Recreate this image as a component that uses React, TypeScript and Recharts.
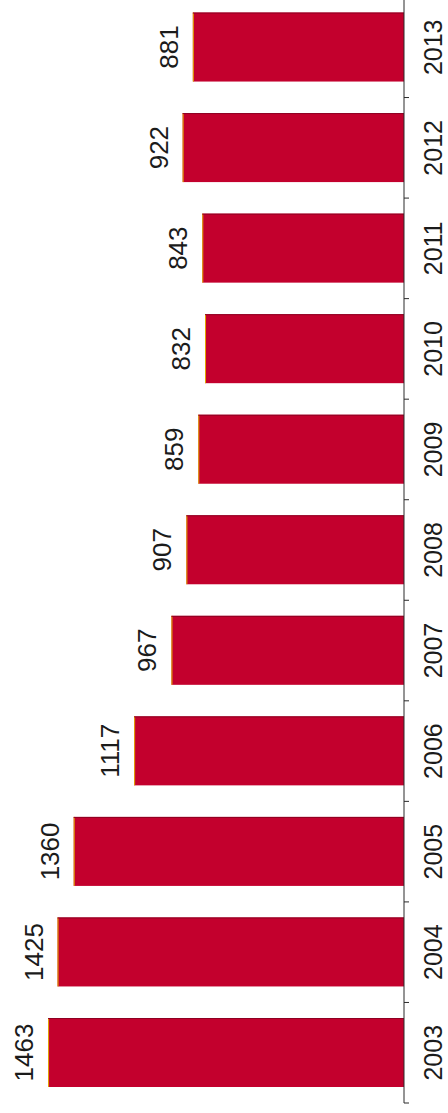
import { BarChart, Bar, XAxis, YAxis, LabelList } from "recharts";

const years = ["2003", "2004", "2005", "2006", "2007", "2008", "2009", "2010", "2011", "2012", "2013"];
const counts = [1463, 1425, 1360, 1117, 967, 907, 859, 832, 843, 922, 881];
const valueDomain = [32, 1600];

const data = years.map((year, i) => ({ year, count: counts[i] }));

const font = "'Liberation Sans Narrow', 'Liberation Sans', sans-serif";

const BarShape = (props: any) => {
  const { x, y, width, height } = props;
  return (
    <g>
      <rect x={x} y={y} width={width} height={height} fill="#C3002D" />
      <line x1={x} x2={x + width} y1={y + 0.5} y2={y + 0.5} stroke="#E2A800" strokeWidth={1} />
      <line x1={x + width - 0.5} x2={x + width - 0.5} y1={y} y2={y + height} stroke="#8E0022" strokeWidth={1} />
    </g>
  );
};

// tick mark sits on the category boundary (Excel style), label in the middle
const YearTick = (props: any) => {
  const { x, y, payload } = props;
  const edge = x - (payload.offset ?? 0);
  return (
    <g>
      <line x1={edge} x2={edge} y1={y} y2={y + 5} stroke="#2a2a2a" strokeWidth={1} />
      <text x={x} y={y + 38} textAnchor="middle" fill="#1b1b1b" fontSize={25} fontFamily={font}>
        {payload.value}
      </text>
    </g>
  );
};

export default function App() {
  return (
    <div
      style={{
        position: "absolute",
        left: 0,
        top: 0,
        width: 448,
        height: 1113,
        overflow: "hidden",
        background: "#ffffff",
      }}
    >
      {/* column chart drawn upright, then turned a quarter turn counter-clockwise */}
      <div
        style={{
          position: "absolute",
          left: 0,
          top: 0,
          width: 1116,
          height: 448,
          transformOrigin: "0 0",
          transform: "translate(0px, 1113px) rotate(-90deg)",
        }}
      >
        <BarChart width={1116} height={448} data={data} margin={{ top: 14, right: 0, bottom: 4, left: 10 }}>
          <XAxis
            dataKey="year"
            height={40}
            tickLine={false}
            tickSize={0}
            tickMargin={0}
            interval={0}
            axisLine={{ stroke: "#2a2a2a" }}
            tick={<YearTick />}
          />
          <YAxis hide domain={valueDomain} allowDataOverflow />
          <Bar dataKey="count" barSize={69} shape={<BarShape />} isAnimationActive={false}>
            <LabelList
              dataKey="count"
              position="top"
              offset={15}
              fill="#1b1b1b"
              fontSize={26}
              fontFamily={font}
            />
          </Bar>
        </BarChart>
      </div>
    </div>
  );
}
